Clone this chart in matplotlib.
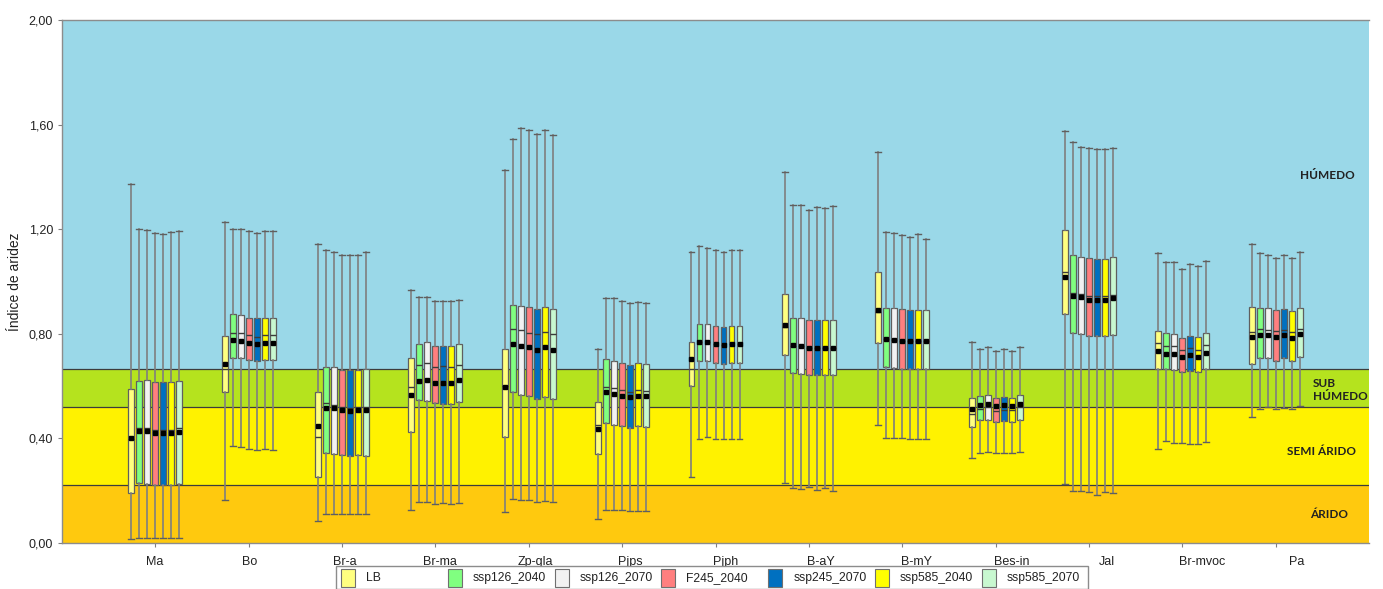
import matplotlib.pyplot as plt
from matplotlib.patches import Rectangle
from matplotlib.ticker import FuncFormatter

# Sites and scenarios
sites = ['Ma', 'Bo', 'Br-a', 'Br-ma', 'Zp-gla', 'Pjps', 'Pjph', 'B-aY',
         'B-mY', 'Bes-in', 'Jal', 'Br-mvoc', 'Pa']
scenarios = ['LB', 'ssp126_2040', 'ssp126_2070', 'F245_2040',
             'ssp245_2070', 'ssp585_2040', 'ssp585_2070']
scenario_colors = ['#FFFF80', '#80FF80', '#F2F2F2', '#FF7F7F',
                   '#0070C0', '#FFFF00', '#C8F8D0']

# Box statistics, one row per site, one column per scenario
whishi = [
    [1.372, 1.200, 1.196, 1.187, 1.182, 1.189, 1.192],
    [1.226, 1.202, 1.199, 1.193, 1.184, 1.192, 1.193],
    [1.145, 1.122, 1.112, 1.100, 1.103, 1.100, 1.112],
    [0.969, 0.942, 0.942, 0.924, 0.924, 0.924, 0.930],
    [1.425, 1.544, 1.586, 1.579, 1.563, 1.579, 1.559],
    [0.741, 0.936, 0.936, 0.924, 0.917, 0.922, 0.917],
    [1.113, 1.135, 1.128, 1.119, 1.112, 1.119, 1.119],
    [1.417, 1.291, 1.291, 1.272, 1.284, 1.282, 1.287],
    [1.494, 1.191, 1.187, 1.177, 1.171, 1.182, 1.164],
    [0.767, 0.741, 0.751, 0.733, 0.741, 0.736, 0.751],
    [1.577, 1.535, 1.516, 1.512, 1.506, 1.506, 1.509],
    [1.109, 1.075, 1.073, 1.049, 1.068, 1.059, 1.077],
    [1.143, 1.108, 1.103, 1.091, 1.100, 1.091, 1.112],
]
q3 = [
    [0.588, 0.619, 0.622, 0.614, 0.614, 0.614, 0.619],
    [0.790, 0.875, 0.872, 0.862, 0.859, 0.862, 0.862],
    [0.576, 0.672, 0.672, 0.662, 0.662, 0.662, 0.664],
    [0.709, 0.761, 0.767, 0.752, 0.755, 0.752, 0.761],
    [0.741, 0.911, 0.908, 0.904, 0.895, 0.904, 0.894],
    [0.539, 0.702, 0.697, 0.687, 0.682, 0.687, 0.683],
    [0.770, 0.837, 0.837, 0.829, 0.825, 0.829, 0.829],
    [0.952, 0.862, 0.862, 0.852, 0.852, 0.852, 0.854],
    [1.038, 0.899, 0.899, 0.894, 0.890, 0.890, 0.890],
    [0.554, 0.563, 0.566, 0.554, 0.557, 0.554, 0.565],
    [1.196, 1.103, 1.095, 1.090, 1.085, 1.085, 1.093],
    [0.811, 0.803, 0.798, 0.783, 0.793, 0.788, 0.802],
    [0.904, 0.900, 0.897, 0.890, 0.894, 0.886, 0.900],
]
med = [
    [0.397, 0.438, 0.438, 0.432, 0.432, 0.432, 0.438],
    [0.667, 0.802, 0.802, 0.794, 0.789, 0.794, 0.794],
    [0.407, 0.534, 0.529, 0.521, 0.518, 0.521, 0.521],
    [0.595, 0.682, 0.687, 0.672, 0.676, 0.672, 0.682],
    [0.602, 0.817, 0.815, 0.802, 0.798, 0.806, 0.799],
    [0.450, 0.595, 0.592, 0.584, 0.576, 0.586, 0.581],
    [0.667, 0.769, 0.769, 0.761, 0.757, 0.761, 0.761],
    [0.827, 0.755, 0.752, 0.747, 0.747, 0.747, 0.747],
    [0.885, 0.779, 0.776, 0.774, 0.771, 0.771, 0.771],
    [0.492, 0.514, 0.519, 0.504, 0.509, 0.509, 0.519],
    [1.038, 0.957, 0.952, 0.943, 0.943, 0.943, 0.948],
    [0.765, 0.753, 0.752, 0.737, 0.746, 0.737, 0.756],
    [0.806, 0.818, 0.816, 0.810, 0.816, 0.806, 0.820],
]
mean = [
    [0.400, 0.428, 0.428, 0.422, 0.422, 0.422, 0.425],
    [0.683, 0.775, 0.771, 0.764, 0.761, 0.764, 0.764],
    [0.449, 0.518, 0.515, 0.509, 0.505, 0.509, 0.509],
    [0.565, 0.621, 0.623, 0.612, 0.612, 0.612, 0.622],
    [0.597, 0.760, 0.755, 0.748, 0.738, 0.748, 0.738],
    [0.437, 0.576, 0.571, 0.563, 0.558, 0.563, 0.562],
    [0.704, 0.767, 0.769, 0.760, 0.756, 0.760, 0.760],
    [0.832, 0.756, 0.754, 0.747, 0.747, 0.747, 0.747],
    [0.891, 0.779, 0.776, 0.774, 0.771, 0.771, 0.771],
    [0.511, 0.528, 0.532, 0.524, 0.526, 0.524, 0.533],
    [1.018, 0.946, 0.940, 0.930, 0.930, 0.930, 0.937],
    [0.734, 0.723, 0.722, 0.710, 0.718, 0.710, 0.728],
    [0.789, 0.795, 0.795, 0.789, 0.795, 0.785, 0.801],
]
q1 = [
    [0.190, 0.228, 0.226, 0.221, 0.221, 0.221, 0.225],
    [0.577, 0.709, 0.706, 0.699, 0.695, 0.699, 0.699],
    [0.254, 0.343, 0.339, 0.335, 0.331, 0.335, 0.331],
    [0.423, 0.546, 0.542, 0.534, 0.532, 0.532, 0.538],
    [0.404, 0.576, 0.566, 0.563, 0.551, 0.560, 0.551],
    [0.339, 0.458, 0.450, 0.449, 0.439, 0.449, 0.442],
    [0.600, 0.697, 0.697, 0.688, 0.685, 0.688, 0.688],
    [0.718, 0.649, 0.646, 0.644, 0.641, 0.641, 0.641],
    [0.764, 0.672, 0.668, 0.664, 0.664, 0.664, 0.664],
    [0.442, 0.469, 0.470, 0.463, 0.467, 0.461, 0.470],
    [0.876, 0.802, 0.798, 0.790, 0.790, 0.790, 0.794],
    [0.665, 0.665, 0.662, 0.653, 0.657, 0.653, 0.665],
    [0.683, 0.706, 0.706, 0.697, 0.706, 0.697, 0.710],
]
whislo = [
    [0.014, 0.019, 0.019, 0.019, 0.019, 0.019, 0.019],
    [0.163, 0.371, 0.367, 0.361, 0.354, 0.361, 0.356],
    [0.083, 0.110, 0.110, 0.110, 0.109, 0.109, 0.109],
    [0.126, 0.156, 0.156, 0.148, 0.152, 0.148, 0.152],
    [0.120, 0.167, 0.163, 0.163, 0.157, 0.162, 0.158],
    [0.093, 0.125, 0.125, 0.125, 0.121, 0.121, 0.121],
    [0.254, 0.397, 0.404, 0.397, 0.397, 0.397, 0.397],
    [0.228, 0.212, 0.207, 0.215, 0.201, 0.209, 0.199],
    [0.450, 0.400, 0.400, 0.400, 0.397, 0.397, 0.397],
    [0.326, 0.343, 0.348, 0.343, 0.343, 0.343, 0.348],
    [0.224, 0.199, 0.199, 0.195, 0.185, 0.195, 0.190],
    [0.359, 0.390, 0.381, 0.381, 0.377, 0.377, 0.385],
    [0.481, 0.511, 0.520, 0.511, 0.515, 0.511, 0.524],
]

# Aridity classes (lower bound, upper bound, colour, label)
zone_lo = [0.0, 0.22, 0.52, 0.665]
zone_hi = [0.22, 0.52, 0.665, 2.0]
zone_colors = ['#FFC90E', '#FFF200', '#B5E31E', '#9AD8E8']
zone_labels = ['ÁRIDO', 'SEMI ÁRIDO', 'SUB\nHÚMEDO', 'HÚMEDO']
zone_label_y = [0.11, 0.348, 0.585, 1.405]

plt.rcParams['font.family'] = ['Liberation Sans', 'DejaVu Sans']

W, H = 1383, 589
fig = plt.figure(figsize=(W / 100, H / 100), dpi=100)
ax = fig.add_axes([62 / W, 46 / H, (1369 - 62) / W, 523 / H])
ax.set_xlim(0, 14)
ax.set_ylim(0, 2)

for lo, hi, c in zip(zone_lo, zone_hi, zone_colors):
    ax.axhspan(lo, hi, color=c, lw=0, zorder=0)
for b in zone_lo[1:]:
    ax.axhline(b, color='#3c3c3c', lw=0.9, zorder=1)

zone_x = [13.57, 13.49, 13.40, 13.55]
zone_ha = ['center', 'center', 'left', 'center']
for lbl, x, y, ha in zip(zone_labels, zone_x, zone_label_y, zone_ha):
    ax.text(x, y, lbl, ha=ha, va='center', fontsize=8.5, fontweight='bold',
            family='Lato', color='#222222', linespacing=1.25, zorder=2)

# One bxp call per scenario, boxes offset inside each site group
step = 0.0857
width = 0.064
site_x = list(range(1, len(sites) + 1))
for j, (name, color) in enumerate(zip(scenarios, scenario_colors)):
    stats = []
    for i in range(len(sites)):
        stats.append({
            'label': sites[i],
            'whislo': whislo[i][j], 'q1': q1[i][j], 'med': med[i][j],
            'q3': q3[i][j], 'whishi': whishi[i][j], 'mean': mean[i][j],
            'fliers': [],
        })
    pos = [x + (j - 3) * step for x in site_x]
    ax.bxp(stats, positions=pos, widths=width, capwidths=width,
           patch_artist=True, showmeans=True, showfliers=False,
           manage_ticks=False,
           boxprops=dict(facecolor=color, edgecolor='#5f5f5f', linewidth=0.9),
           medianprops=dict(color='#3a3a3a', linewidth=1.0),
           whiskerprops=dict(color='#7f7f7f', linewidth=1.2),
           capprops=dict(color='#5f5f5f', linewidth=1.0),
           meanprops=dict(marker='s', markerfacecolor='black',
                          markeredgecolor='black', markersize=2.6),
           zorder=3)

# Axes styling
ax.set_xticks(site_x)
ax.set_xticklabels([])
ax.tick_params(axis='x', length=3, color='#808080')
label_x = [0.99 + i * 1.0198 for i in range(len(sites))]
for x, s in zip(label_x, sites):
    ax.text(x, -0.024, s, transform=ax.get_xaxis_transform(),
            ha='center', va='top', fontsize=9, color='#222222')

ax.set_yticks([0, 0.4, 0.8, 1.2, 1.6, 2.0])
ax.yaxis.set_major_formatter(FuncFormatter(lambda v, p: f'{v:.2f}'.replace('.', ',')))
ax.tick_params(axis='y', length=3, color='#808080', labelsize=9,
               labelcolor='#222222')
ax.set_ylabel('Índice de aridez', fontsize=10, color='#222222', labelpad=5)

for side in ['left', 'bottom', 'top']:
    ax.spines[side].set_color('#8c8c8c')
    ax.spines[side].set_linewidth(1.0)
ax.spines['right'].set_visible(False)

# Legend row below the axis
fig.patches.append(Rectangle((336 / W, 0), (1088 - 336) / W, (H - 566) / H,
                             transform=fig.transFigure, facecolor='white',
                             edgecolor='#8c8c8c', lw=1.0))
for k, (name, color) in enumerate(zip(scenarios, scenario_colors)):
    px = 341 + k * 106.8
    fig.patches.append(Rectangle((px / W, (H - 587) / H), 14 / W, 18 / H,
                                 transform=fig.transFigure, facecolor=color,
                                 edgecolor='#707070', lw=0.8))
    fig.text((px + 25) / W, (H - 578) / H, name, ha='left', va='center',
             fontsize=8.7, color='#222222')

fig.savefig('out.png', dpi=100)
